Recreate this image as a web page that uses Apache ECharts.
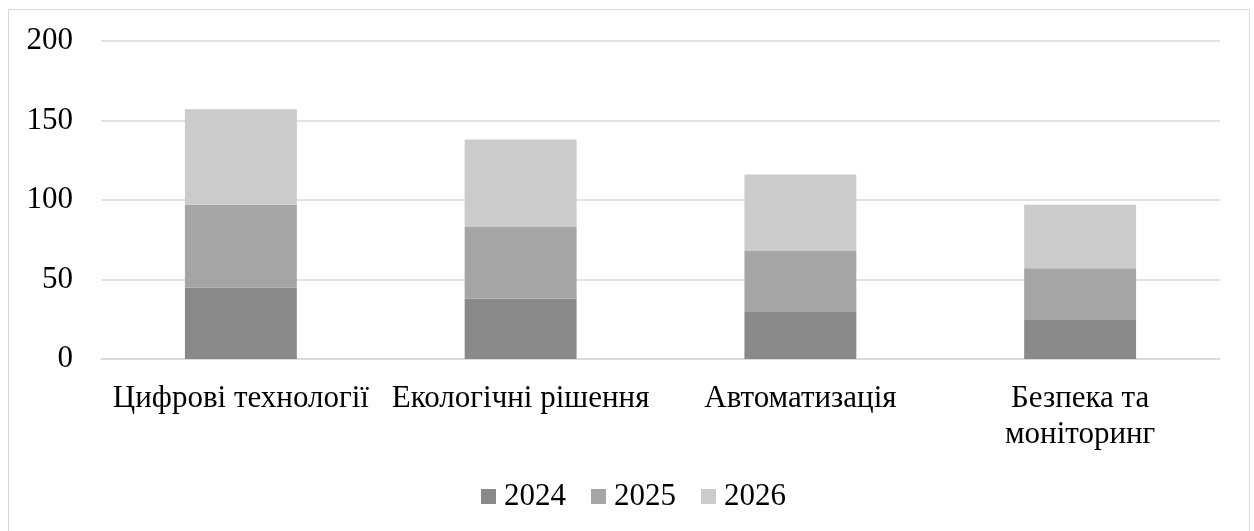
<!DOCTYPE html>
<html>
<head>
<meta charset="utf-8">
<script src="https://cdn.jsdelivr.net/npm/echarts@6/dist/echarts.min.js"></script>
<style>
html,body{margin:0;padding:0;background:#fff;}
#frame{position:absolute;left:8px;top:9px;width:1242px;height:540px;border:1px solid #d9d9d9;border-bottom:none;box-sizing:border-box;}
#chart{position:absolute;left:0;top:0;width:1254px;height:531px;}
</style>
</head>
<body>
<div id="frame"></div>
<div id="chart"></div>
<script>
const categories = ["Цифрові технології", "Екологічні рішення", "Автоматизація", "Безпека та моніторинг"];
const seriesNames = ["2024", "2025", "2026"];
const values2024 = [45, 38, 30, 25];
const values2025 = [52, 45, 38, 32];
const values2026 = [60, 55, 48, 40];
const colors = ["#898989", "#a5a5a5", "#cbcbcb"];
const FONT = "Liberation Serif";

function wrapLabel(s) {
  const w = s.split(' ');
  if (w.length > 2) return w.slice(0, w.length - 1).join(' ') + '\n' + w[w.length - 1];
  return s;
}

const chart = echarts.init(document.getElementById('chart'), null, {renderer: 'canvas'});
const seriesData = [values2024, values2025, values2026];
chart.setOption({
  animation: false,
  backgroundColor: 'transparent',
  grid: {left: 101, right: 34, top: 41, bottom: 172, containLabel: false},
  legend: {
    bottom: 14,
    left: 476,
    itemWidth: 15,
    itemHeight: 15,
    itemGap: 25,
    icon: 'rect',
    textStyle: {fontFamily: FONT, fontSize: 31, color: '#000', padding: [0, 0, 0, 3]},
    data: seriesNames
  },
  xAxis: {
    type: 'category',
    data: categories,
    axisLine: {show: true, lineStyle: {color: '#d9d9d9', width: 1.5}},
    axisTick: {show: false},
    axisLabel: {
      interval: 0,
      margin: 22,
      fontFamily: FONT,
      fontSize: 31,
      color: '#000',
      lineHeight: 36,
      formatter: wrapLabel
    }
  },
  yAxis: {
    type: 'value',
    min: 0,
    max: 200,
    interval: 50,
    axisLine: {show: false},
    axisTick: {show: false},
    splitLine: {lineStyle: {color: '#d9d9d9', width: 1.5}},
    axisLabel: {fontFamily: FONT, fontSize: 31, color: '#000', margin: 28}
  },
  series: seriesNames.map((name, i) => ({
    name: name,
    type: 'bar',
    stack: 'total',
    data: seriesData[i],
    barCategoryGap: '60%',
    itemStyle: {color: colors[i]}
  }))
});
</script>
</body>
</html>
